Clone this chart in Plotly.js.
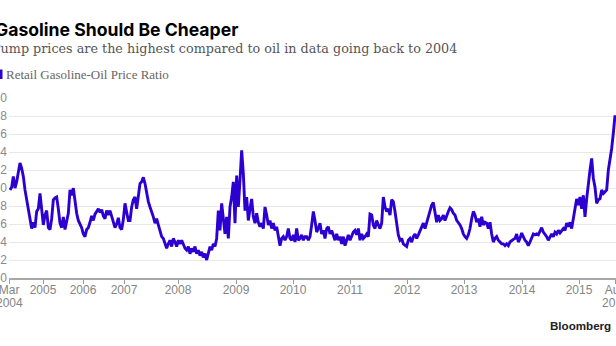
<!DOCTYPE html>
<html><head><meta charset="utf-8">
<script src="https://cdn.plot.ly/plotly-3.0.1.min.js"></script>
<style>html,body{margin:0;padding:0;background:#fff;overflow:hidden}#chart{width:616px;height:346px}</style>
</head><body><div id="chart"></div>
<script>
const ratio2004_2007 = [1.98,2.01,2.13,2.00,2.07,2.16,2.28,2.22,2.13,1.98,
  1.87,1.79,1.68,1.55,1.62,1.56,1.74,1.77,1.94,1.74,
  1.59,1.70,1.75,1.56,1.54,1.66,1.87,1.89,1.90,1.77,
  1.61,1.56,1.68,1.54,1.62,1.72,1.98,1.92,2.00,1.85,
  1.72,1.64,1.60,1.56,1.49,1.46,1.54,1.56,1.62,1.69,
  1.64,1.71,1.74,1.77,1.73,1.76,1.69,1.66,1.75,1.70,
  1.75,1.69,1.61,1.56,1.60,1.67,1.56,1.54,1.65,1.83,
  1.73,1.64,1.64];
const ratio2007_2009 = [1.79,1.87,1.90,1.77,1.94,2.05,2.07,2.12,2.05,1.94,
  1.85,1.79,1.74,1.68,1.61,1.66,1.59,1.51,1.46,1.44,
  1.38,1.33,1.38,1.42,1.35,1.44,1.40,1.35,1.42,1.38,
  1.42,1.38,1.33,1.31,1.35,1.27,1.33,1.29,1.35,1.27,
  1.31,1.25,1.29,1.23,1.27,1.20,1.29,1.35,1.31,1.38,
  1.35,1.44,1.75,1.53,1.83,1.64,1.49,1.68,1.44,1.79,
  1.90,2.07,1.61,2.14,1.79,2.09,2.42,2.16,1.75,1.90,
  1.64,1.77];
const ratio2009_2011 = [1.88,1.68,1.61,1.72,1.62,1.57,1.61,1.55,1.79,1.70,
  1.59,1.64,1.55,1.61,1.53,1.57,1.48,1.36,1.44,1.46,
  1.42,1.46,1.55,1.44,1.42,1.48,1.40,1.55,1.42,1.44,
  1.48,1.42,1.46,1.46,1.42,1.46,1.59,1.74,1.64,1.51,
  1.55,1.61,1.49,1.53,1.44,1.55,1.57,1.49,1.53,1.48,
  1.42,1.49,1.42,1.46,1.38,1.46,1.36,1.42,1.48,1.42,
  1.46,1.51,1.53,1.48,1.55,1.42,1.49,1.44,1.46,1.49,
  1.46,1.71];
const ratio2011_2013 = [1.70,1.59,1.55,1.64,1.59,1.55,1.61,1.90,1.79,1.74,
  1.77,1.70,1.87,1.85,1.74,1.61,1.48,1.42,1.44,1.38,
  1.36,1.35,1.42,1.44,1.40,1.46,1.49,1.44,1.48,1.53,
  1.57,1.61,1.55,1.62,1.68,1.74,1.81,1.84,1.70,1.62,
  1.70,1.64,1.66,1.70,1.64,1.70,1.74,1.78,1.76,1.72,
  1.70,1.64,1.62,1.59,1.55,1.49,1.46,1.44,1.48,1.55,
  1.66,1.74,1.70,1.62,1.66,1.57,1.68,1.59,1.62,1.61,
  1.55,1.62];
const ratio2013_2015 = [1.49,1.40,1.44,1.46,1.42,1.40,1.38,1.38,1.36,1.38,
  1.36,1.40,1.42,1.43,1.44,1.49,1.40,1.44,1.50,1.46,
  1.42,1.40,1.36,1.40,1.44,1.49,1.48,1.49,1.48,1.53,
  1.56,1.51,1.49,1.46,1.42,1.46,1.49,1.46,1.51,1.49,
  1.53,1.50,1.53,1.55,1.53,1.61,1.57,1.62,1.55,1.64,
  1.77,1.88,1.81,1.90,1.77,1.92,1.68,1.88,2.07,2.20,
  2.33,2.11,2.01,1.83,1.87,1.88,1.98,1.94,1.96,1.98,
  2.20,2.31,2.44,2.61,2.81];

// Observation index at which each labelled date falls
const xTickPos  = [-0.5, 19.8, 43.8, 68.4, 100.8, 135.6, 169.8, 204, 238.2, 272.4, 307.2, 341.4, 363.3];
const xTickText = ['Mar','2005','2006','2007','2008','2009','2010','2011','2012','2013','2014','2015','Aug'];
// second label line (year) under the first and last ticks
const xTickYearPos  = [-0.5, 363.3];
const xTickYearText = ['2004', '2015'];
const yTickVals = [1.0,1.2,1.4,1.6,1.8,2.0,2.2,2.4,2.6,2.8,3.0];
const yTickText = ['1.0','1.2','1.4','1.6','1.8','2.0','2.2','2.4','2.6','2.8','3.0'];

const seriesName = 'Retail Gasoline-Oil Price Ratio';
const titleText = 'Gasoline Should Be Cheaper';
const subtitleText = 'Pump prices are the highest compared to oil in data going back to 2004';
const sourceText = 'Bloomberg';

const ratio = [].concat(ratio2004_2007, ratio2007_2009, ratio2009_2011, ratio2011_2013, ratio2013_2015);

const W = 616, H = 346, M = {l: 9, r: 0, t: 98, b: 68};
const pw = W - M.l - M.r, ph = H - M.t - M.b;
const px = x => (x - M.l) / pw;
const py = y => 1 - (y - M.t) / ph;
const LINE = '#2d00d2';
const TICKFONT = {family: 'Liberation Sans, Arial, sans-serif', size: 12, color: '#858585'};

const trace = {
  y: ratio, x0: 0, dx: 1, type: 'scatter', mode: 'lines', name: seriesName,
  line: {color: LINE, width: 2.9}, hoverinfo: 'skip'
};

function ann(text, x, y, font, xanchor) {
  return {text, xref: 'paper', yref: 'paper', x: px(x), y: py(y), xanchor: xanchor || 'left',
    yanchor: 'middle', showarrow: false, font, borderpad: 0};
}

const yearAnns = xTickYearPos.map((p, i) => ({
  text: xTickYearText[i], xref: 'x', yref: 'paper', x: p, y: py(303), xanchor: 'center', yanchor: 'middle',
  showarrow: false, font: TICKFONT, borderpad: 0
}));

const layout = {
  width: W, height: H, margin: M, showlegend: false,
  paper_bgcolor: '#fff', plot_bgcolor: '#fff',
  xaxis: {
    type: 'linear', range: [-0.6, 363.6], tickmode: 'array', tickvals: xTickPos, ticktext: xTickText,
    ticks: 'outside', ticklen: 4, tickwidth: 1, tickcolor: '#9a9a9a',
    showline: true, linecolor: '#a8a8a8', linewidth: 1.5, showgrid: false, zeroline: false,
    ticklabeloverflow: 'allow', ticklabelstandoff: -4,
    tickfont: TICKFONT, automargin: false, fixedrange: true
  },
  yaxis: {
    range: [1, 3.002], tickmode: 'array', tickvals: yTickVals, ticktext: yTickText,
    showgrid: true, gridcolor: '#e8e8e8', gridwidth: 1, zeroline: false, showline: false, ticks: '',
    ticklabeloverflow: 'allow', ticklabelstandoff: 1,
    tickfont: {family: 'Liberation Sans, Arial, sans-serif', size: 12, color: '#8a8a8a'},
    automargin: false, fixedrange: true
  },
  shapes: [{type: 'rect', xref: 'paper', yref: 'paper', x0: px(-6), x1: px(2.5), y0: py(79), y1: py(69.5),
    fillcolor: LINE, line: {width: 0}}],
  annotations: [
    ann('<b>' + titleText + '</b>', -6, 29, {family: 'Inter, Liberation Sans, sans-serif', size: 17.6, color: '#000'}),
    ann(subtitleText, -9, 48, {family: 'DejaVu Serif, serif', size: 12.75, color: '#555'}),
    ann(seriesName, 5, 74, {family: 'Liberation Serif, serif', size: 13, color: '#666'}),
    ann('<b>' + sourceText + '</b>', 612, 325, {family: 'Liberation Sans, Arial, sans-serif', size: 11.6, color: '#222'}, 'right')
  ].concat(yearAnns)
};

Plotly.newPlot('chart', [trace], layout, {displayModeBar: false, staticPlot: true});
</script></body></html>
